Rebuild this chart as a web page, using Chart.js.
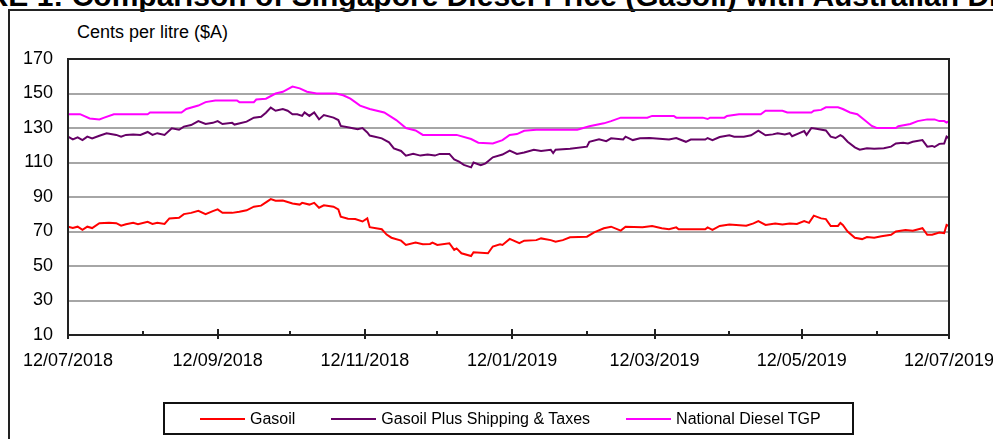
<!DOCTYPE html>
<html>
<head>
<meta charset="utf-8">
<title>Singapore Gasoil vs Australian Diesel TGP</title>
<script src="https://cdn.jsdelivr.net/npm/chart.js@4.4.0/dist/chart.umd.min.js"></script>
<style>
    body { margin: 0; width: 993px; height: 439px; overflow: hidden; background: #fff; position: relative;
           font-family: 'Liberation Sans', Arial, sans-serif; color: #000; }
    #title { position: absolute; left: -85px; top: -19px; font-size: 30px; line-height: 30px; font-weight: bold; white-space: nowrap; }
    #frame { position: absolute; left: 8px; top: 9px; width: 1100px; height: 600px; border: 2px solid #222; }
    #unit { position: absolute; left: 77px; top: 23px; font-size: 18px; line-height: 18px; white-space: nowrap; }
    #chart-wrap { position: absolute; left: 0; top: 0; width: 993px; height: 439px; }
    #legend { position: absolute; left: 163px; top: 402px; width: 691px; height: 33px; border: 2px solid #111;
              display: flex; align-items: center; padding-left: 35px; box-sizing: border-box; font-size: 16px; }
    #legend .item { display: flex; align-items: center; margin-right: 36px; white-space: nowrap; }
    #legend .swatch { width: 45px; height: 2px; margin-right: 5px; }
</style>
</head>
<body>
<div id="title">FIGURE 1: Comparison of Singapore Diesel Price (Gasoil) with Australian Diesel TGP</div>
<div id="frame"></div>
<div id="unit">Cents per litre ($A)</div>
<div id="chart-wrap"><canvas id="priceChart"></canvas></div>
<div id="legend"></div>

<script>
// Days counted from 12/07/2018
const monthTicks = [0, 31, 62, 92, 123, 153, 184, 215, 243, 274, 304, 335, 365];
const tickLabels = ['12/07/2018', '', '12/09/2018', '', '12/11/2018', '', '12/01/2019', '', '12/03/2019', '', '12/05/2019', '', '12/07/2019'];

// Gasoil (Singapore)
const gasoilDays = [0, 2, 4, 6, 8, 10, 13, 17, 20, 22, 24, 27, 29, 33, 35, 37, 40, 42, 46, 48,
    51, 54, 57, 60, 62, 64, 68, 71, 74, 77, 80, 82, 84, 86, 89, 93, 96, 97, 100, 102,
    104, 106, 110, 112, 113, 116, 119, 122, 124, 125, 130, 132, 134, 138, 140, 144, 147, 150, 151, 153,
    158, 160, 161, 163, 167, 168, 174, 176, 179, 180, 183, 187, 189, 194, 196, 200, 202, 205, 208, 215,
    218, 222, 225, 229, 231, 238, 242, 246, 249, 252, 253, 264, 265, 267, 270, 274, 281, 284, 286, 289,
    293, 296, 299, 302, 305, 307, 309, 312, 314, 316, 319, 320, 321, 323, 326, 329, 331, 334, 337, 341,
    343, 347, 350, 354, 356, 358, 361, 363, 364, 365];
const gasoil = [72.8, 72, 72.8, 71, 72.8, 72, 74.8, 75, 74.8, 73.4, 74.2, 75, 74.2, 75.6, 74.4, 75, 74.4, 77.6, 78, 80.1,
    80.8, 82, 80.1, 81.8, 82.8, 80.8, 80.8, 81.4, 82.3, 84.4, 85, 86.9, 88.8, 87.8, 88, 86.2, 85.6, 86.6, 85.6, 86.6,
    83.8, 85.2, 84.4, 82.8, 78.6, 77.4, 77.2, 75.8, 77.6, 72.5, 71.3, 68.2, 66.4, 64.7, 62.2, 63.6, 62.6, 62.8, 63.6, 62.2,
    63.2, 59.3, 60.2, 57.4, 55.8, 58, 57.4, 61.3, 62.6, 62.2, 65.7, 63.2, 64.7, 65, 66, 65, 64.1, 65, 66.6, 67,
    69.5, 71.9, 72.8, 70.5, 72.8, 72.4, 73.2, 71.9, 71.3, 72.4, 71.3, 71.3, 72.4, 71, 73.2, 74, 73.4, 74.7, 76, 73.8,
    74.7, 74, 74.7, 74.4, 76, 75, 79.2, 77.6, 77.2, 73.2, 73.2, 75, 73.8, 70, 66.4, 65.6, 66.8, 66.4, 67.2, 68.1,
    70, 70.8, 70.5, 71.9, 68.1, 68.1, 69.4, 69, 73.8, 73.2];

// Gasoil plus shipping & taxes
const landedDays = [0, 2, 4, 6, 8, 10, 13, 16, 20, 22, 24, 27, 30, 33, 35, 37, 40, 43, 46, 48,
    51, 54, 57, 60, 62, 64, 68, 69, 74, 77, 80, 82, 84, 86, 89, 91, 93, 95, 97, 98,
    100, 102, 104, 106, 110, 112, 113, 117, 120, 122, 124, 125, 130, 133, 135, 138, 140, 143, 146, 149,
    152, 154, 158, 160, 162, 164, 167, 168, 171, 173, 176, 180, 183, 186, 189, 193, 196, 200, 201, 202,
    208, 215, 216, 220, 223, 225, 230, 231, 234, 237, 241, 245, 249, 252, 256, 258, 264, 265, 267, 270,
    274, 276, 280, 283, 286, 289, 292, 294, 297, 299, 300, 303, 305, 306, 308, 310, 314, 316, 318, 320,
    321, 323, 326, 328, 331, 334, 338, 341, 343, 346, 348, 350, 354, 356, 358, 359, 361, 363, 364, 365];
const landed = [125, 123.4, 124.6, 123, 125, 124, 125.5, 126.9, 126, 125, 126, 126.3, 126, 127.7, 126, 127, 126, 129.8, 129, 130.8,
    131.7, 134, 132.3, 133, 134, 132.3, 133, 132, 133.7, 136, 136.5, 138.9, 141.8, 140, 141, 140, 138, 138, 137, 139,
    137, 139, 135, 137.5, 136, 134.6, 131.2, 130.2, 129.3, 130, 127.4, 125.6, 124, 121.7, 118.2, 116.7, 114, 115, 114, 114.6,
    114, 115, 115, 111.8, 110.5, 108.6, 107.2, 110, 108.4, 109.5, 113, 114.6, 116.9, 115, 115.8, 117.4, 116.7, 117.4, 115.5, 117.4,
    118, 119.2, 122, 123.4, 122.4, 124, 123.4, 125, 123, 124, 124.2, 123.7, 123.3, 124.2, 122, 123.3, 123.3, 124.2, 123, 124.8,
    125.8, 125, 125, 125.8, 128.4, 125.8, 126.3, 127, 126.3, 127, 125.2, 127, 128.2, 126, 130, 129.6, 128.6, 125, 124.2, 125.8,
    125, 122, 118.8, 117.4, 118.3, 118, 118.3, 119.2, 121, 121.5, 121, 122, 123, 119.2, 119.6, 119, 120.8, 121, 125, 124];

// National diesel TGP
const tgpDays = [0, 5, 9, 13, 15, 19, 33, 34, 47, 49, 54, 57, 61, 70, 71, 77, 78, 82, 86, 89,
    93, 96, 99, 103, 111, 114, 117, 121, 125, 131, 136, 140, 144, 147, 161, 167, 170, 176, 180, 183,
    186, 189, 194, 211, 216, 222, 225, 229, 240, 242, 251, 252, 263, 265, 266, 272, 273, 278, 287, 289,
    296, 298, 308, 309, 312, 314, 319, 321, 324, 327, 330, 333, 335, 343, 344, 349, 352, 356, 359, 361,
    363, 364, 365];
const tgp = [138, 138, 135.5, 135, 136, 138, 138, 139, 139, 141, 143, 145, 146, 146, 145, 145, 146.5, 147, 150, 151,
    154, 153, 151, 150, 150, 149, 147, 143, 141, 139, 134.6, 130, 128.6, 126, 126, 123.6, 121.5, 121, 123, 126,
    126.5, 128.4, 129, 129, 131, 132.7, 134, 136, 136, 137, 137, 136, 136, 135.2, 136, 136, 137, 138, 138, 140,
    140, 139, 139, 140, 140.5, 142, 142, 141, 139, 138, 134.6, 131.2, 130, 130, 131, 132.3, 134, 135, 135, 134,
    134, 133.2, 134];

const FONT = "'Liberation Sans', Arial, sans-serif";

document.addEventListener('DOMContentLoaded', () => {
    const chart = initChart();
    renderLegend(chart);
});

function toPoints(days, values) {
    return days.map((d, i) => ({ x: d, y: values[i] }));
}

// Plot frame plus the month tick marks on the date axis
const axisMarks = {
    id: 'axisMarks',
    afterDatasetsDraw(chart) {
        const { ctx, chartArea: a, scales: { x } } = chart;
        ctx.save();
        ctx.strokeStyle = '#222';
        ctx.lineWidth = 2;
        ctx.strokeRect(a.left, a.top, a.right - a.left, a.bottom - a.top);
        monthTicks.forEach((d, i) => {
            const px = Math.round(x.getPixelForValue(d));
            const major = tickLabels[i] !== '';
            ctx.beginPath();
            ctx.moveTo(px, a.bottom - (major ? 6 : 4));
            ctx.lineTo(px, a.bottom + (major ? 4 : 0));
            ctx.stroke();
        });
        ctx.restore();
    }
};

function initChart() {
    const ctx = document.getElementById('priceChart').getContext('2d');
    const line = { borderWidth: 2, pointRadius: 0, tension: 0, fill: false };
    return new Chart(ctx, {
        type: 'line',
        data: {
            datasets: [
                { label: 'Gasoil', data: toPoints(gasoilDays, gasoil), borderColor: '#ff0000', ...line },
                { label: 'Gasoil Plus Shipping & Taxes', data: toPoints(landedDays, landed), borderColor: '#660066', ...line },
                { label: 'National Diesel TGP', data: toPoints(tgpDays, tgp), borderColor: '#ff00ff', ...line }
            ]
        },
        options: {
            responsive: true,
            maintainAspectRatio: false,
            animation: false,
            devicePixelRatio: 1,
            layout: { padding: { top: 59, right: 44, bottom: 0, left: 0 } },
            plugins: {
                legend: { display: false },
                tooltip: { enabled: false }
            },
            scales: {
                x: {
                    type: 'linear',
                    min: 0,
                    max: 365,
                    afterBuildTicks: scale => { scale.ticks = monthTicks.map(v => ({ value: v })); },
                    afterFit: scale => { scale.height = 104; scale.paddingLeft = 0; scale.paddingRight = 0; },
                    grid: { display: false },
                    border: { display: false },
                    ticks: {
                        autoSkip: false,
                        maxRotation: 0,
                        padding: 7,
                        color: '#000',
                        font: { family: FONT, size: 18 },
                        callback: (value, index) => tickLabels[index]
                    }
                },
                y: {
                    min: 10,
                    max: 170,
                    afterFit: scale => { scale.width = 68; },
                    border: { display: false },
                    grid: {
                        drawTicks: false,
                        lineWidth: 2,
                        color: c => (c.tick && c.tick.value === 170 ? '#222' : '#a6a6a6')
                    },
                    ticks: {
                        stepSize: 20,
                        padding: 15,
                        color: '#000',
                        font: { family: FONT, size: 18 }
                    }
                }
            }
        },
        plugins: [axisMarks]
    });
}

// HTML legend built from the chart's datasets
function renderLegend(chart) {
    const box = document.getElementById('legend');
    box.innerHTML = '';
    chart.data.datasets.forEach(ds => {
        box.innerHTML += `<span class="item"><span class="swatch" style="background:${ds.borderColor}"></span>${ds.label.replace('&', '&amp;')}</span>`;
    });
}
</script>
</body>
</html>
